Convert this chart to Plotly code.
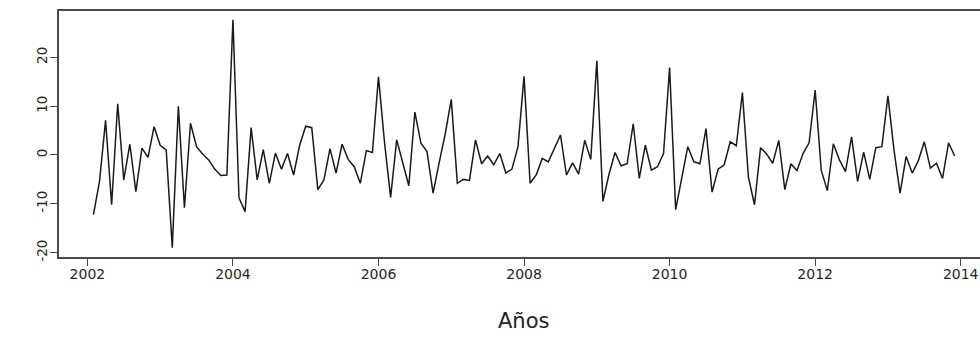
import plotly.graph_objects as go

# Monthly differenced series, Feb 2002 .. Dec 2013
start_year = 2002
start_month = 2
v2002 = [-12.2, -5.4, 7.1, -10.2, 10.5, -5.1, 2.2, -7.5, 1.4, -0.5, 5.8]
v2003 = [2.0, 1.0, -19.0, 10.0, -10.8, 6.5, 1.7, 0.2, -1.0, -2.9, -4.2, -4.1]
v2004 = [27.7, -8.8, -11.6, 5.6, -5.1, 1.1, -5.8, 0.4, -2.9, 0.3, -4.1, 2.0]
v2005 = [5.9, 5.6, -7.1, -5.1, 1.3, -3.7, 2.2, -0.9, -2.4, -5.8, 0.9, 0.5]
v2006 = [16.0, 2.5, -8.7, 3.1, -1.5, -6.3, 8.8, 2.4, 0.7, -7.8, -1.6, 4.3]
v2007 = [11.4, -5.8, -5.0, -5.2, 3.1, -1.8, -0.2, -2.0, 0.3, -3.7, -2.9, 1.7]
v2008 = [16.1, -5.8, -4.1, -0.7, -1.4, 1.4, 4.1, -4.1, -1.6, -3.9, 3.0, -0.9]
v2009 = [19.3, -9.5, -4.0, 0.5, -2.2, -1.8, 6.4, -4.8, 2.0, -3.1, -2.4, 0.3]
v2010 = [17.9, -11.2, -5.1, 1.7, -1.4, -1.8, 5.4, -7.6, -2.9, -2.0, 2.7, 1.9]
v2011 = [12.8, -4.6, -10.2, 1.5, 0.2, -1.7, 3.0, -7.1, -1.8, -3.2, 0.3, 2.5]
v2012 = [13.3, -3.1, -7.3, 2.3, -1.0, -3.4, 3.7, -5.4, 0.6, -5.0, 1.5, 1.7]
v2013 = [12.1, 1.0, -7.8, -0.3, -3.7, -1.2, 2.7, -2.7, -1.7, -4.8, 2.5, -0.2]

x_tick_vals = [2002, 2004, 2006, 2008, 2010, 2012, 2014]
x_tick_text = ["2002", "2004", "2006", "2008", "2010", "2012", "2014"]
y_tick_vals = [-20, -10, 0, 10, 20]
y_tick_text = ["-20", "-10", "0", "10", "20"]
x_title = "Años"

values = (v2002 + v2003 + v2004 + v2005 + v2006 + v2007 + v2008 +
          v2009 + v2010 + v2011 + v2012 + v2013)
t0 = start_year + (start_month - 1) / 12
times = [t0 + i / 12 for i in range(len(values))]

fig = go.Figure()
fig.add_trace(go.Scatter(x=times, y=values, mode="lines",
                         line=dict(color="#1a1a1a", width=1.5),
                         hoverinfo="skip", showlegend=False))

axis_col = "#4a4a4a"

fig.update_layout(
    width=980, height=342,
    margin=dict(l=59, r=0, t=11, b=85),
    paper_bgcolor="white", plot_bgcolor="white",
    xaxis=dict(range=[2001.61, 2014.265], tickvals=x_tick_vals, ticktext=x_tick_text,
               showgrid=False, zeroline=False, showline=True, linecolor=axis_col,
               linewidth=1.6, mirror=True, ticks="outside", ticklen=7, tickwidth=1.3,
               tickcolor=axis_col, ticklabelstandoff=-4,
               tickfont=dict(family="DejaVu Sans", size=14, color="#262626")),
    yaxis=dict(range=[-20.9, 29.5], tickvals=y_tick_vals, ticktext=y_tick_text,
               showgrid=False, zeroline=False, showline=True, linecolor=axis_col,
               linewidth=1.6, ticks="outside", ticklen=7, tickwidth=1.3,
               tickcolor=axis_col, tickangle=-90, ticklabelstandoff=-2,
               tickfont=dict(family="DejaVu Sans", size=13.5, color="#262626")),
    annotations=[dict(text=x_title, xref="paper", yref="paper",
                      x=(523 - 59) / 921, y=(257 - 321) / 246,
                      xanchor="center", yanchor="middle", showarrow=False,
                      font=dict(family="DejaVu Sans", size=21, color="#222222"))],
)

fig.write_html("out.html")
